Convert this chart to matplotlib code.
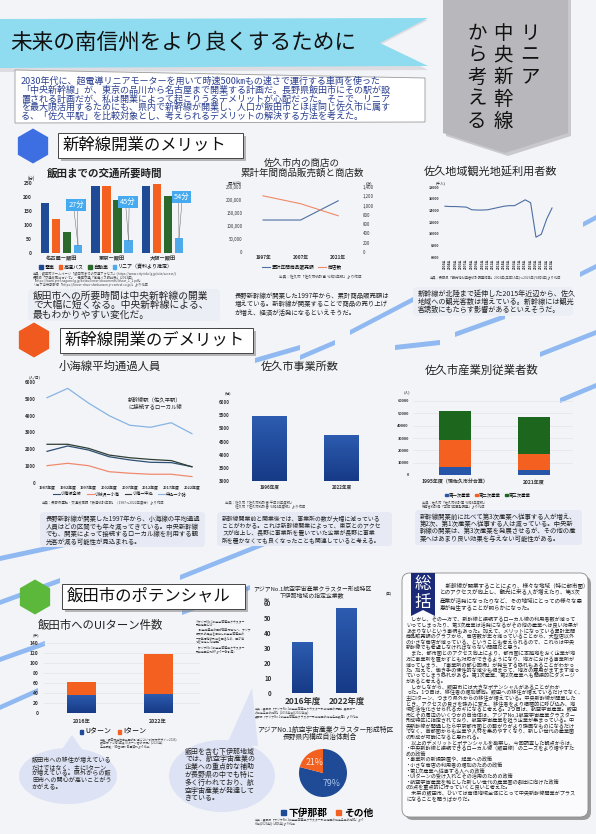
import numpy as np
import matplotlib
matplotlib.use('Agg')
import matplotlib.pyplot as plt
import matplotlib.colors as mcolors
from matplotlib.patches import Polygon, FancyBboxPatch, Ellipse, Rectangle, RegularPolygon, Patch
from matplotlib.lines import Line2D
from matplotlib.legend import Legend
from matplotlib.ticker import FuncFormatter

plt.rcParams['font.family'] = ['Noto Sans CJK JP', 'DejaVu Sans']

# ---------------- data ----------------
routes = ['名古屋ー飯田', '東京ー飯田', '大阪ー飯田']
mode_labels = ['電車', '高速バス', '自動車', 'リニア（資料より推定）']
time_train = [180, 240, 240]
time_bus = [120, 240, 245]
time_car = [75, 190, 205]
time_linear = [27, 45, 54]

shop_years = ['1997年', '2007年', '2021年']
shop_sales = [123000, 123000, 197000]
shop_count = [1210, 1040, 780]
shop_labels = ['累計年間商品販売額', '商店数']

tour_years = list(range(2003, 2024))
tour_visitors = [14700, 14650, 14650, 14600, 14550, 14100, 14050, 14050, 14100, 14300,
                 14500, 14700, 14800, 14800, 15300, 15800, 15300, 9400, 9900, 12500, 14400]

koumi_years = ['1987年度', '1992年度', '1997年度', '2002年度', '2007年度', '2012年度', '2017年度', '2022年度']
koumi_all = [1880, 2200, 1960, 1560, 1370, 1230, 1210, 970]
koumi_kobuchi = [1030, 1170, 1030, 670, 580, 520, 520, 380]
koumi_nakagomi = [2300, 2300, 2060, 1660, 1500, 1400, 1330, 960]
koumi_komoro = [5070, 5620, 4750, 4000, 3430, 3310, 3580, 2930]
koumi_labels = ['小海線全線', '小淵沢ー小海', '小海ー中込', '中込ー小諸']

office_years = ['1996年度', '2022年度']
office_counts = [5480, 4750]

emp_years = ['1995年度（現佐久市分合算）', '2021年度']
emp_labels = ['第一次産業', '第二次産業', '第三次産業']
emp_primary = [6700, 4000]
emp_secondary = [21700, 13000]
emp_tertiary = [23700, 30300]

ui_years = ['2016年', '2022年']
ui_labels = ['Uターン', 'Iターン']
u_turn = [37, 39]
i_turn = [26, 80]

aero_years = ['2016年度', '2022年度']
aero_firms = [34, 57]

share_labels = ['下伊那郡', 'その他']
share_values = [79, 21]

# ---------------- figure ----------------
W, H = 596, 834
fig = plt.figure(figsize=(W / 100, H / 100), dpi=100)
fig.patch.set_facecolor('#f3f4f8')
bg = fig.add_axes([0, 0, 1, 1])
bg.set_xlim(0, W)
bg.set_ylim(H, 0)
bg.axis('off')

NAVY = '#1f4a96'
ORANGE = '#f4601f'
DGREEN = '#2b6a2c'
LBLUE = '#4eaaea'
TXT = '#222222'


def px_axes(x0, y0, x1, y1):
    ax = fig.add_axes([x0 / W, 1 - y1 / H, (x1 - x0) / W, (y1 - y0) / H])
    ax.patch.set_alpha(0)
    return ax


def T(x, y, s, size, ha='left', va='center', color=TXT, **kw):
    return bg.text(x, y, s, fontsize=size, ha=ha, va=va, color=color, **kw)


def lines(x, y0, dy, texts, size, **kw):
    for i, s in enumerate(texts):
        T(x, y0 + i * dy, s, size, **kw)


def clean(ax, ysize=3.5, xsize=3.5, ypad=1.5, xpad=1.5):
    for s in ax.spines.values():
        s.set_visible(False)
    ax.tick_params(axis='both', length=0)
    ax.tick_params(axis='y', labelsize=ysize, pad=ypad, colors='#333333')
    ax.tick_params(axis='x', labelsize=xsize, pad=xpad, colors='#333333')


def bold_ticks(ax, axis='y'):
    labs = ax.get_yticklabels() if axis == 'y' else ax.get_xticklabels()
    for l in labs:
        l.set_fontweight('bold')


def gradient_bars(ax, bars, c_bottom, c_top, ymin=None):
    cmap = mcolors.LinearSegmentedColormap.from_list('g', [c_bottom, c_top])
    grad = np.linspace(0, 1, 64).reshape(-1, 1)
    for b in bars:
        x0, w, y0, h = b.get_x(), b.get_width(), b.get_y(), b.get_height()
        lo = y0 if ymin is None else max(y0, ymin)
        im = ax.imshow(grad, extent=[x0, x0 + w, lo, y0 + h], origin='lower',
                       aspect='auto', cmap=cmap, zorder=b.get_zorder() + 0.1)
        im.set_clip_path(b)


def legend_at(x, y, handles, labels, size, ncol=None, **kw):
    opts = dict(loc='center', bbox_to_anchor=(x, y), bbox_transform=bg.transData,
                ncol=ncol or len(labels), fontsize=size, frameon=False,
                handlelength=0.8, handleheight=0.8, handletextpad=0.3,
                columnspacing=0.9, borderpad=0, borderaxespad=0)
    opts.update(kw)
    lg = Legend(bg, handles, labels, **opts)
    bg.add_artist(lg)
    return lg


def caption_box(x0, y0, x1, y1, fc='#e7eaf5'):
    bg.add_patch(FancyBboxPatch((x0, y0), x1 - x0, y1 - y0,
                                boxstyle='round,pad=0,rounding_size=4', fc=fc, ec='none', zorder=1))


# ---------------- decorative stripes ----------------
stripes = [(350, 330, 415, 296), (455, 332, 505, 314), (580, 272, 596, 264), (583, 222, 596, 215),
           (300, 355, 335, 340), (540, 352, 596, 330), (560, 398, 596, 383), (0, 556, 70, 541),
           (0, 657, 45, 641), (0, 705, 38, 688), (180, 575, 265, 541), (182, 610, 250, 585),
           (395, 345, 440, 340), (0, 600, 60, 578), (255, 358, 300, 345)]
for x0, y0, x1, y1 in stripes:
    bg.add_patch(Polygon([(x0, y0), (x1, y1), (x1, y1 + 5), (x0, y0 + 5)],
                         closed=True, fc='#6ea6ee', ec='none', alpha=0.75, zorder=0.5))

# ---------------- header ----------------
bg.add_patch(Polygon([(0, 22), (428, 20), (380, 45), (428, 70), (0, 72)], closed=True,
                     fc='#c8c8cc', ec='none', alpha=0.5, zorder=1))
bg.add_patch(Polygon([(0, 19), (428, 18), (380, 43), (428, 66), (0, 68)], closed=True,
                     fc='#8fdcf1', ec='none', zorder=2))
T(10, 43, '未来の南信州をより良くするために', 15.6, color='#111111', zorder=3)

bg.add_patch(Polygon([(446, 0), (571, 0), (571, 136), (508, 156), (446, 136)], closed=True,
                     fc='#8a8a8e', ec='none', alpha=0.4, zorder=1))
bg.add_patch(Polygon([(443, 0), (568, 0), (568, 133), (505, 153), (443, 133)], closed=True,
                     fc='#b8b8bc', ec='none', zorder=2))
for col_x, word in [(530, 'リニア'), (503, '中央新幹線'), (477, 'から考える')]:
    for i, ch in enumerate(word):
        T(col_x, 33 + i * 22, ch, 14, ha='center', color='#111111', zorder=3)

bg.add_patch(Polygon([(15, 70), (425, 78), (425, 122), (15, 123)], closed=True,
                     fc='white', ec='#9a9a9a', lw=0.6, zorder=2))
intro = ['2030年代に、超電導リニアモーターを用いて時速500㎞もの速さで運行する車両を使った',
         '「中央新幹線」が、東京の品川から名古屋まで開業する計画だ。長野県飯田市にその駅が設',
         '置される計画だが、私は開業によって起こりうるデメリットが心配だった。そこで、リニア',
         'を最大限活用するためにも、県内で新幹線が開業し、人口が飯田市とほぼ同じ佐久市に属す',
         'る、「佐久平駅」を比較対象とし、考えられるデメリットの解決する方法を考えた。']
lines(21, 81.5, 8.7, intro, 6.5, color='#2a3f8f', zorder=3)


# ---------------- section headers ----------------
def section(cx, cy, color, x0, y0, x1, y1, title):
    bg.add_patch(RegularPolygon((cx, cy), 6, radius=17.5, orientation=0, fc=color, ec='none', zorder=2))
    bg.add_patch(Rectangle((x0 + 2.5, y0 + 2.5), x1 - x0, y1 - y0, fc='#8c8c8c', ec='none', alpha=0.6, zorder=2))
    bg.add_patch(Rectangle((x0, y0), x1 - x0, y1 - y0, fc='white', ec='#444444', lw=0.7, zorder=3))
    T(x0 + 5, (y0 + y1) / 2, title, 11.8, color='#111111', zorder=4)


section(33, 146, '#3d6fe3', 58, 133, 243, 158, '新幹線開業のメリット')
section(34, 340, '#f05a1e', 60, 328, 253, 353, '新幹線開業のデメリット')
section(35, 597, '#5bb83a', 62, 584, 245, 609, '飯田市のポテンシャル')

# ---------------- chart 1: travel time ----------------
T(47, 173, '飯田までの交通所要時間', 7.6, fontweight='bold')
T(28, 178, '(分)', 3.2)
ax1 = px_axes(35, 183, 190, 253)
xg = np.arange(len(routes))
step, bw = 0.218, 0.16
series1 = [time_train, time_bus, time_car, time_linear]
cols1 = [NAVY, ORANGE, DGREEN, LBLUE]
for k, (vals, c) in enumerate(zip(series1, cols1)):
    ax1.bar(xg + (k - 1.5) * step, vals, bw, color=c, zorder=2)
ax1.set_xlim(-0.525, 2.545)
ax1.set_ylim(0, 250)
ax1.set_yticks(range(0, 251, 50))
ax1.set_xticks(xg, routes)
clean(ax1, ysize=3.6, xsize=3.8, ypad=2, xpad=2)
bold_ticks(ax1, 'y')
bold_ticks(ax1, 'x')
callout_pos = [(0.29, 171), (1.32, 182), (2.37, 200)]
for g, (v, (bx, by)) in enumerate(zip(time_linear, callout_pos)):
    xb = g + 1.5 * step
    ax1.plot([bx - 0.05, xb], [by - 6, v], color='#666666', lw=0.35, zorder=3)
    ax1.plot([bx + 0.02, xb], [by - 6, v], color='#666666', lw=0.35, zorder=3)
    ax1.text(bx, by, f'{v}分', fontsize=5.3, color='white', ha='center', va='center', zorder=4,
             bbox=dict(boxstyle='square,pad=0.25', fc='#45aaf0', ec='none'))
legend_at(106, 267, [Patch(color=c) for c in cols1], mode_labels, 3.6, handlelength=0.7, handleheight=0.7)
src1 = ['出典：飯田市ホームページ「飯田市までの交通アクセス」(https://www.city.iida.lg.jp/site/access/)',
        '長野県「交通政策について」・信南交通「高速バス時刻表」(2023年)',
        '「https://www.pref.nagano.lg.jp/kotsu/linear/documents/linear_1_1.pdf」',
        'リニア中央新幹線「https://linear-chuo-shinkansen.jr-central.co.jp/」より作成']
lines(33, 273.5, 3.8, src1, 2.3, color='#444444')
caption_box(28, 289, 220, 321, fc='#eceef6')
lines(33, 296, 9.3, ['飯田市への所要時間は中央新幹線の開業',
                     'で大幅に短くなる。中央新幹線による、',
                     '最もわかりやすい変化だ。'], 7.0, zorder=2)

# ---------------- chart 2: shops ----------------
T(302, 163, '佐久市内の商店の', 6.8, ha='center')
T(302, 173, '累計年間商品販売額と商店数', 6.8, ha='center')
T(228, 183, '(百万円)', 2.8)
T(366, 183, '(店)', 2.8)
ax2 = px_axes(245, 187, 360, 252)
xs2 = np.arange(len(shop_years))
ax2.plot(xs2, shop_sales, color='#4d6fa3', lw=0.8)
ax2.set_xlim(-0.48, 2.58)
ax2.set_ylim(0, 250000)
ax2.set_yticks(range(0, 250001, 50000))
ax2.yaxis.set_major_formatter(FuncFormatter(lambda v, p: f'{int(v):,}'))
ax2.set_xticks(xs2, shop_years)
clean(ax2, ysize=3.1, xsize=3.4, ypad=2, xpad=2)
bold_ticks(ax2, 'x')
ax2b = ax2.twinx()
ax2b.patch.set_alpha(0)
ax2b.plot(xs2, shop_count, color='#f08866', lw=0.8)
ax2b.set_ylim(0, 1400)
ax2b.set_yticks(range(0, 1401, 200))
ax2b.yaxis.set_major_formatter(FuncFormatter(lambda v, p: f'{int(v):,}'))
clean(ax2b, ysize=3.1, ypad=2)
legend_at(302, 267, [Line2D([], [], color='#4d6fa3', lw=0.8), Line2D([], [], color='#f08866', lw=0.8)],
          shop_labels, 3.4, handlelength=1.6)
T(320, 277, '出典：佐久市「佐久市統計書 令和5年版」より作成', 2.6, ha='center', color='#444444')
lines(235, 296, 8.3, ['長野新幹線が開業した1997年から、累計商品販売額は',
                      '増えている。新幹線が開業することで商品の売り上げ',
                      'が増え、経済が活発になるといえそうだ。'], 4.6)

# ---------------- chart 3: tourists ----------------
T(491, 172, '佐久地域観光地延利用者数', 8, ha='center')
T(436, 183, '(千人)', 2.6)
ax3 = px_axes(443, 187, 557, 257)
ax3.plot(tour_years, tour_visitors, color='#4d6fa3', lw=0.8)
ax3.set_xlim(2002.63, 2023.93)
ax3.set_ylim(6000, 18000)
ax3.set_yticks(range(6000, 18001, 2000))
ax3.set_xticks(tour_years, [f'{y}年' for y in tour_years], rotation=90)
clean(ax3, ysize=2.6, xsize=2.2, ypad=2.5, xpad=1.5)
bold_ticks(ax3, 'y')
bold_ticks(ax3, 'x')
T(495, 277, '出典：長野県「観光地利用者統計調査結果」2003年(平成15年)～2023年(令和5年)より作成', 2.3,
  ha='center', color='#444444')
caption_box(413, 287, 573, 316, fc='#eceef6')
lines(418, 294, 7.8, ['新幹線が北陸まで延伸した2015年近辺から、佐久',
                      '地域への観光客数は増えている。新幹線には観光',
                      '客誘致にもたらす影響があるといえそうだ。'], 5.1, zorder=2)

# ---------------- chart 4: Koumi line ----------------
T(110, 366, '小海線平均通過人員', 8.2, ha='center')
T(29, 377, '(人/日)', 2.8)
ax4 = px_axes(40, 382, 200, 483)
xs4 = np.arange(len(koumi_years))
cols4 = ['#2c4f73', '#f08a6e', '#2f3d33', '#86b4e3']
for vals, c in zip([koumi_all, koumi_kobuchi, koumi_nakagomi, koumi_komoro], cols4):
    ax4.plot(xs4, vals, color=c, lw=0.9)
ax4.set_xlim(-0.34, 7.39)
ax4.set_ylim(0, 6000)
ax4.set_yticks(range(0, 6001, 1000))
ax4.set_xticks(xs4, koumi_years)
clean(ax4, ysize=3.2, xsize=2.8, ypad=3, xpad=2)
bold_ticks(ax4, 'y')
bold_ticks(ax4, 'x')
T(128, 400, '新幹線駅（佐久平駅）', 3.9)
T(128, 406, 'に接続するローカル線', 3.9)
legend_at(120, 494, [Line2D([], [], color=c, lw=0.8) for c in cols4], koumi_labels, 3.0,
          handlelength=1.6, columnspacing=1.2)
T(42, 503, '出典：長野県運輸・交通政策課「鉄道統計年報」（1987～2022年度分）より作成', 2.4, color='#444444')
caption_box(40, 512, 205, 547)
lines(46, 519, 7.5, ['長野新幹線が開業した1997年から、小海線の平均通過',
                     '人員はどの区間でも年々減ってきている。中央新幹線',
                     'でも、開業によって接続するローカル線を利用する観',
                     '光客が減る可能性が見込まれる。'], 4.6, zorder=2)

# ---------------- chart 5: offices ----------------
T(300, 367, '佐久市事業所数', 8, ha='center')
T(225, 393, '(社)', 2.8)
ax5 = px_axes(237, 402, 380, 481)
xs5 = np.arange(len(office_years))
b5 = ax5.bar(xs5, office_counts, 0.486, color=NAVY, zorder=2)
gradient_bars(ax5, b5, '#163a86', '#2d5cb0', ymin=3000)
ax5.set_xlim(-0.458, 1.53)
ax5.set_ylim(3000, 6000)
ax5.set_yticks(range(3000, 6001, 500))
ax5.set_xticks(xs5, office_years)
clean(ax5, ysize=3.2, xsize=3.3, ypad=5, xpad=3)
bold_ticks(ax5, 'y')
bold_ticks(ax5, 'x')
lines(225, 503, 4.5, ['出典：佐久市「佐久市統計書 平成10年度版」',
                      '　　　佐久市「佐久市統計書 令和4年度版」より作成'], 2.4, color='#444444')
caption_box(217, 512, 392, 546)
lines(222, 519, 7.2, ['新幹線開業前と開業後では、事業所の数が大幅に減っている',
                      'ことがわかる。これは新幹線開業によって、東京とのアクセ',
                      'スが向上し、長野に事業所を置いていた企業が長野に事業',
                      '所を置かなくても良くなったことも関連していると考える。'], 4.2, zorder=2)

# ---------------- chart 6: employees ----------------
T(482, 370, '佐久市産業別従業者数', 8.2, ha='center')
T(404, 392, '(人)', 2.8)
ax6 = px_axes(413, 401, 573, 475)
xs6 = np.arange(len(emp_years))
bot = np.zeros(len(emp_years))
for vals, c in zip([emp_primary, emp_secondary, emp_tertiary], ['#2756a8', ORANGE, '#1d661d']):
    ax6.bar(xs6, vals, 0.405, bottom=bot, color=c, zorder=2)
    bot += np.array(vals)
ax6.set_xlim(-0.53, 1.49)
ax6.set_ylim(0, 60000)
ax6.set_yticks(range(0, 60001, 10000))
ax6.set_xticks(xs6, emp_years)
ax6.grid(axis='y', color='#e2e2e2', lw=0.4, zorder=0)
ax6.set_axisbelow(True)
clean(ax6, ysize=2.9, xsize=3.6, ypad=3, xpad=3)
bold_ticks(ax6, 'y')
bold_ticks(ax6, 'x')
legend_at(488, 495, [Patch(color=c) for c in ['#2756a8', ORANGE, '#1d661d']], emp_labels, 3.2,
          handlelength=0.6, handleheight=0.6)
lines(422, 503, 4.3, ['出典：佐久市「佐久市統計書 令和4年度版」',
                      '総務省統計局「平成7年国勢調査」より作成'], 2.3, color='#444444')
caption_box(415, 510, 582, 545)
lines(420, 517, 7.2, ['新幹線開業前に比べて第3次産業へ従事する人が増え、',
                      '第2次、第1次産業へ従事する人は減っている。中央新',
                      '幹線の開業は、第3次産業を発展させるが、その他の産',
                      '業へはあまり良い効果を与えない可能性がある。'], 4.6, zorder=2)

# ---------------- chart 7: UI turn ----------------
T(101, 625, '飯田市へのUIターン件数', 8.2, ha='center')
T(33, 635, '(件)', 2.8)
ax7 = px_axes(43, 643, 200, 713)
xs7 = np.arange(len(ui_years))
b7u = ax7.bar(xs7, u_turn, 0.38, color=NAVY, zorder=2)
gradient_bars(ax7, b7u, '#163a86', '#2d5cb0')
ax7.bar(xs7, i_turn, 0.38, bottom=u_turn, color=ORANGE, zorder=2)
ax7.set_xlim(-0.51, 1.55)
ax7.set_ylim(0, 140)
ax7.set_yticks(range(0, 141, 20))
ax7.set_xticks(xs7, ui_years)
ax7.grid(axis='y', color='#e2e2e2', lw=0.4, zorder=0)
ax7.set_axisbelow(True)
clean(ax7, ysize=3.5, xsize=3.8, ypad=3, xpad=4)
bold_ticks(ax7, 'y')
bold_ticks(ax7, 'x')
legend_at(113, 732, [Patch(color=NAVY), Patch(color=ORANGE)], ui_labels, 5, handlelength=0.5, handleheight=0.5)
lines(100, 739, 3.6, ['出典：飯田市定住自立圏の取組について(未来デザイン2028)',
                      '飯田市「令和5年度 UIターン者の状況」(2023年)',
                      '企業誘致・移住相談 各種資料より作成'], 2.1, color='#444444')
bg.add_patch(Polygon([(60, 752), (84, 752), (72, 735)], closed=True, fc='#dde3f4', ec='none', zorder=1))
bg.add_patch(Ellipse((68, 776), 98, 56, fc='#dde3f4', ec='none', zorder=1))
lines(32, 760, 6.8, ['飯田市への移住が増えている',
                     'だけではなく、主にIターン',
                     'が増えている。県外からの飯',
                     '田市への関心が高いことがう',
                     'かがえる。'], 4.4, zorder=2)

# ---------------- chart 8: aerospace firms ----------------
T(312, 588, 'アジアNo.1航空宇宙産業クラスター形成特区', 4.2, ha='center')
T(312, 595, '下伊那地域の指定企業数', 4.2, ha='center')
T(264, 599, '(社)', 2.6)
T(386, 593, '(年)', 2.6)
ax8 = px_axes(277, 603, 375, 693)
xs8 = np.arange(len(aero_years))
b8 = ax8.bar(xs8, aero_firms, 0.47, color=NAVY, zorder=2)
gradient_bars(ax8, b8, '#163a86', '#2d5cb0')
ax8.set_xlim(-0.57, 1.63)
ax8.set_ylim(0, 60)
ax8.set_yticks(range(0, 61, 10))
ax8.set_xticks(xs8, aero_years)
clean(ax8, ysize=4.4, xsize=6, ypad=4, xpad=3)
bold_ticks(ax8, 'y')
bold_ticks(ax8, 'x')
lines(255, 708, 4.0, ['出典：長野県「アジアNo.1航空宇宙産業クラスター形成特区の概要」長野県ー',
                      'の指定企業の推移」(2016年度)(2022年度)',
                      '長野県「アジアNo.1航空宇宙産業クラスター形成特区の指定企業数等」より作成'], 2.1,
      color='#444444')
note = ['※アジアNo.1航空宇宙産業クラスター',
        '形成特区とは…',
        '「航空機産業の国際競争力強化へ、アジア',
        '最大級の拠点を目指し航空宇宙産業の',
        '一大集積地の形成を図るため、国が地',
        '域を指定した特区」',
        '（アジアNo.1航空宇宙産業クラスター',
        '形成特区公式HPより一部引用）']
lines(196, 621, 4.3, note, 2.1, color='#333333')

# pie
T(325, 730, 'アジアNo.1航空宇宙産業クラスター形成特区', 4.9, ha='center')
T(320, 737, '長野県内構成自治体割合', 4.9, ha='center')
ax9 = px_axes(292, 743, 354, 803)
wedges, _, autot = ax9.pie(share_values, colors=['#1f4a96', ORANGE], startangle=90, counterclock=False,
                           autopct='%d%%', pctdistance=0.58, radius=1.0,
                           wedgeprops=dict(linewidth=0))
autot[0].set_color('#a9c7ef')
autot[1].set_color('#f6e6dc')
for t in autot:
    t.set_fontsize(6.3)
ax9.set_aspect('equal')
legend_at(327, 813, [Patch(color='#1f4a96'), Patch(color=ORANGE)], share_labels, 7,
          handlelength=0.5, handleheight=0.5, prop=dict(size=7, weight='bold'))
lines(255, 819.5, 3.8, ['出典：長野県「アジアNo.1航空宇宙産業クラスター形成特区の指定企業の推移」より',
                        '作成(2023年)(令和5年)より作成'], 2.1, color='#444444')
bg.add_patch(Polygon([(226, 746), (258, 746), (252, 688)], closed=True, fc='#dde3f4', ec='none', zorder=1))
bg.add_patch(Ellipse((222, 776), 106, 72, fc='#dde3f4', ec='none', zorder=1))
lines(185, 751.5, 7.8, ['飯田を含む下伊那地域',
                        'では、航空宇宙産業の',
                        '企業への重点的な補助',
                        'が長野県の中でも特に',
                        '多く行われており、航',
                        '空宇宙産業が発達して',
                        'きている。'], 5.0, zorder=2)

# ---------------- summary ----------------
bg.add_patch(FancyBboxPatch((405, 576), 186, 244, boxstyle='round,pad=0,rounding_size=8',
                            fc='#555555', ec='none', alpha=0.55, zorder=1))
bg.add_patch(FancyBboxPatch((402, 573), 186, 244, boxstyle='round,pad=0,rounding_size=8',
                            fc='#fbfbfd', ec='#8a8a8a', lw=0.6, zorder=2))
bg.add_patch(Polygon([(411, 573), (435, 573), (435, 616), (423, 610), (411, 616)], closed=True,
                     fc='#1b2a78', ec='none', zorder=3))
T(423, 584, '総', 12, ha='center', color='white', zorder=4)
T(423, 602, '括', 12, ha='center', color='white', zorder=4)
lines(440, 585, 7.5, ['　新幹線が開業することにより、様々な地域（特に都市圏）',
                      'とのアクセスが向上し、観光に来る人が増えたり、第3次',
                      '産業が活発になったりなど、その地域にとっての様々な恩',
                      '恵が発生することが明らかになった。'], 4.0, zorder=4)
summary_lines = [
    '　しかし、その一方で、新幹線と接続するローカル線の利用者数が減って',
    'いってしまったり、第3次産業は活発になるがその他の産業へは良い効果が',
    'あまりないという事柄もあった。加えて、メリットになっている累計年間',
    '商品販売額のグラフから、商店数が年々減っていることから、大型店以外',
    'の小さな商店が減っている、ということも考えられるので、これらは中央',
    '新幹線でも考慮しなければならない問題だと思う。',
    '　また、都市圏とのアクセス向上により、都市圏に本拠地をおく企業が地',
    '方に事業所を置かずとも対応ができるようになり、地方における事業所が',
    '減ってしまう、「事業所の都心回帰」が発生する恐れもあることがわかっ',
    'た。加えて、働き手の慢性的な減少も相まって、地方の雇用がますます減っ',
    'ていってしまう恐れがある。第1次産業、第2次産業へも間接的にダメージ',
    'があると考える。',
    '　しかしながら、飯田市には大きなポテンシャルがあることがわか',
    'った。1つ目は、移住者の増加傾向。飯田への移住が増えているだけでなく、',
    '主にIターン、つまり県外からの移住が増えている。中央新幹線が開業した',
    'とき、アクセスの良さを強みに変え、移住者をより積極的に呼び込み、地',
    '域を活性化させられるカギになると考える。2つ目は、航空宇宙産業。飯田',
    '市とその周辺のいくつかの自治体は、アジアNo.1航空宇宙産業クラスター',
    '形成特区に指定されており、航空宇宙産業を担う企業が集まっている。中',
    '央新幹線が開通したら中京都市圏との繋がりがより強固なものになるだけ',
    'でなく、首都圏からも企業や人材を集めやすくなり、新しい世代の産業圏',
    'の形成が可能になると思われる。',
    '　以上のデメリットとポテンシャルを勘案し、今回調査した観点からは、',
    '・中央新幹線と接続できるローカル線（飯田線）のニーズをより増やすた',
    'めの政策',
    '・事業所の新規設置や、起業への政策',
    '・小さな商店の利用者の増加のための政策',
    '・第1次産業へ従事する人への政策',
    '・UIターンの受け入れとその活用のための政策',
    '・航空宇宙産業を軸とした新しい世代の産業圏の創出に向けた政策',
    'の5点を重点的に行っていくと良いと考えた。',
    '　未来の飯田市、ひいては南信地域全体にとって中央新幹線開業がプラス',
    'になることを願うばかりだ。']
lines(406, 620, 5.6, summary_lines, 3.7, zorder=4)

fig.savefig('out.png', dpi=100, facecolor=fig.get_facecolor())
